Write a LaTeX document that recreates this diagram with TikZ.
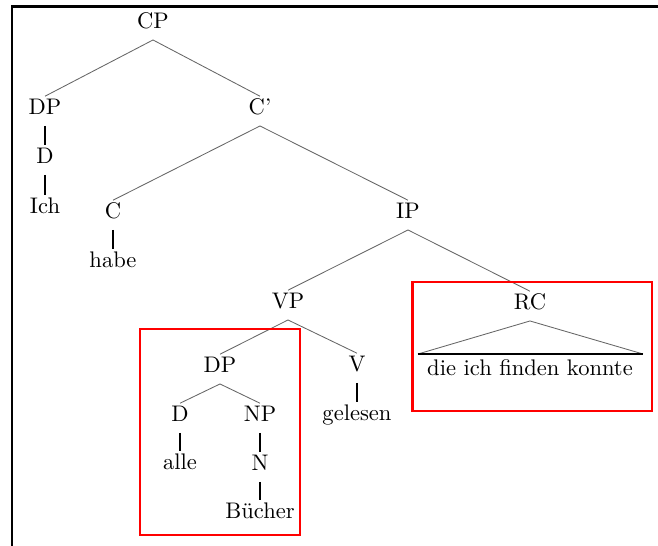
\documentclass[tikz,border=0pt]{standalone}
\usepackage{tikz}

\begin{document}
\begin{tikzpicture}[x=0.47pt, y=-0.47pt,
	cat/.style={anchor=base, inner sep=0pt, font=\fontsize{10.6pt}{12pt}\selectfont, text height=2ex, text depth=1.15ex},
	branch/.style={gray!80!black},
	unary/.style={thick},
	hl/.style={red, line width=1pt}]
	\useasboundingbox (0,0) rectangle (658,546);
	\draw [line width=1.1pt] (12,552) -- (12,6.5) -- (664,6.5);
	% tree nodes
	\node (cp) at (153,29) [cat] {CP};
	\node (dpa) at (45,115) [cat] {DP};
	\node (da) at (45,164) [cat] {D};
	\node (ich) at (45,214) [cat] {Ich};
	\node (cbar) at (260,115) [cat] {C'};
	\node (c) at (113,219) [cat] {C};
	\node (habe) at (113,268) [cat] {habe};
	\node (ip) at (408,219) [cat] {IP};
	\node (vp) at (288,309) [cat] {VP};
	\node (rc) at (530,310) [cat] {RC};
	\node (clause) at (530,376) [cat] {die ich finden konnte};
	\node (dpb) at (220,373) [cat] {DP};
	\node (v) at (357,372) [cat] {V};
	\node (gelesen) at (357,421) [cat] {gelesen};
	\node (db) at (180,422) [cat] {D};
	\node (alle) at (180,470) [cat] {alle};
	\node (np) at (260,422) [cat] {NP};
	\node (n) at (260,471) [cat] {N};
	\node (buecher) at (260,519) [cat] {Bücher};
	% edges
	\foreach \a/\b in {cp/dpa, cp/cbar, cbar/c, cbar/ip, ip/vp, ip/rc, vp/dpb, vp/v, dpb/db, dpb/np}
		\draw [branch] (\a.south) -- (\b.north);
	\foreach \a/\b in {dpa/da, da/ich, c/habe, v/gelesen, db/alle, np/n, n/buecher}
		\draw [unary] (\a.south) -- (\b.north);
	% triangle for RC
	\coordinate (rcl) at (418,354);
	\coordinate (rcr) at (643,354);
	\draw [branch] (rcl) -- (rc.south) -- (rcr);
	\draw [thick] (rcl) -- (rcr);
	% highlight boxes
	\draw [hl] (140,329) rectangle (300,535);
	\draw [hl] (412.5,282) rectangle (652,411);
\end{tikzpicture}
\end{document}
